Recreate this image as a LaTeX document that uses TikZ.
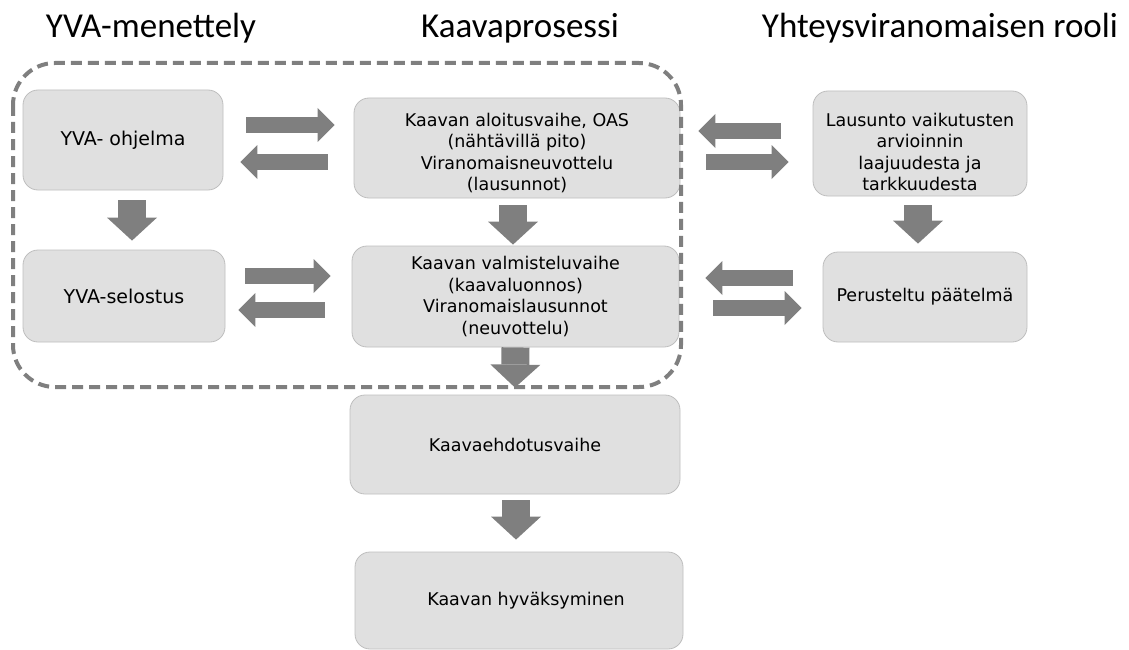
\documentclass[tikz,border=0pt]{standalone}
\usepackage{fontspec}
\setmainfont{DejaVu Sans}
\newfontfamily\headfont{Carlito}
\usetikzlibrary{arrows.meta}

\definecolor{boxgrey}{RGB}{224,224,224}
\definecolor{edgegrey}{RGB}{190,190,190}
\definecolor{arrowgrey}{RGB}{127,127,127}

\tikzset{
  stage/.style={draw=edgegrey, fill=boxgrey, line width=0.8pt, rounded corners=15pt,
    align=center, inner sep=0pt, font=\fontsize{17.5}{21.5}\selectfont},
  bigstage/.style={stage, font=\fontsize{19}{23}\selectfont},
  heading/.style={anchor=base, inner sep=0pt, font=\headfont\fontsize{35}{40}\selectfont},
  sidearrow/.style={arrowgrey, line width=16pt, -{Triangle[width=34pt,length=17pt,line width=0pt]}},
  downarrow/.style={arrowgrey, line width=28pt, -{Triangle[width=50pt,length=23pt,line width=0pt]}},
  groupline/.style={arrowgrey, line width=4pt, dash pattern=on 11pt off 6pt, rounded corners=42pt}
}

\begin{document}
\begin{tikzpicture}[x=1pt,y=-1pt]
\useasboundingbox (0,0) rectangle (1129,650);

% column titles
\node[heading] (yvatitle) at (151,38) {YVA-menettely};
\node[heading] (kaavatitle) at (520,38) {Kaavaprosessi};
\node[heading] (roletitle) at (940,38) {Yhteysviranomaisen rooli};

% YVA column
\node[bigstage, minimum width=200pt, minimum height=100pt] (ohjelma) at (123,140) {YVA- ohjelma};
\node[bigstage, minimum width=202pt, minimum height=92pt] (selostus) at (124,296) {YVA-selostus};

% kaava column
\node[stage, minimum width=326pt, minimum height=100pt] (aloitus) at (517,148)
  {\rule{0pt}{23pt}Kaavan aloitusvaihe, OAS\\(nähtävillä pito)\\Viranomaisneuvottelu\\(lausunnot)};
\node[stage, minimum width=327pt, minimum height=101pt] (valmistelu) at (515.5,296.5)
  {Kaavan valmisteluvaihe\\(kaavaluonnos)\\Viranomaislausunnot\\(neuvottelu)};
\node[stage, minimum width=330pt, minimum height=99pt] (ehdotus) at (515,444.5) {Kaavaehdotusvaihe};
\node[stage, minimum width=328pt, minimum height=97pt] (hyvaksyminen) at (519,600.5) {\hspace{14pt}Kaavan hyväksyminen};

% authority column
\node[stage, minimum width=214pt, minimum height=105pt] (lausunto) at (920,143.5)
  {\rule{0pt}{30pt}Lausunto vaikutusten\\arvioinnin\\laajuudesta ja\\tarkkuudesta};
\node[stage, minimum width=204pt, minimum height=90pt] (paatelma) at (925,297) {Perusteltu päätelmä};

% dashed frame round YVA and early kaava stages
\draw[groupline] (13,63) rectangle (681,387);

% arrows between columns
\draw[sidearrow] ([xshift=23pt,yshift=15pt]ohjelma.east) -- ([xshift=-19pt,yshift=23pt]aloitus.west);
\draw[sidearrow] ([xshift=-26pt,yshift=-14pt]aloitus.west) -- ([xshift=17pt,yshift=-22pt]ohjelma.east);
\draw[sidearrow] ([xshift=20pt,yshift=20pt]selostus.east) -- ([xshift=-21pt,yshift=20.5pt]valmistelu.west);
\draw[sidearrow] ([xshift=-27pt,yshift=-13.5pt]valmistelu.west) -- ([xshift=13pt,yshift=-14pt]selostus.east);
\draw[sidearrow] ([xshift=-32pt,yshift=12.5pt]lausunto.west) -- ([xshift=18pt,yshift=17pt]aloitus.east);
\draw[sidearrow] ([xshift=26pt,yshift=-14pt]aloitus.east) -- ([xshift=-24pt,yshift=-18.5pt]lausunto.west);
\draw[sidearrow] ([xshift=-30pt,yshift=19pt]paatelma.west) -- ([xshift=26pt,yshift=18.5pt]valmistelu.east);
\draw[sidearrow] ([xshift=34pt,yshift=-11.5pt]valmistelu.east) -- ([xshift=-21pt,yshift=-11pt]paatelma.west);

% arrows down each column
\draw[downarrow] ([xshift=9pt,yshift=-10pt]ohjelma.south) -- ([xshift=8pt,yshift=9pt]selostus.north);
\draw[downarrow] ([xshift=-4pt,yshift=-7pt]aloitus.south) -- ([xshift=-2.5pt,yshift=1pt]valmistelu.north);
\draw[downarrow] (valmistelu.south) -- ([yshift=7pt]ehdotus.north);
\draw[downarrow] ([xshift=1pt,yshift=-6pt]ehdotus.south) -- ([xshift=-3pt,yshift=12pt]hyvaksyminen.north);
\draw[downarrow] ([xshift=-2pt,yshift=-9pt]lausunto.south) -- ([xshift=-7pt,yshift=8pt]paatelma.north);
\end{tikzpicture}
\end{document}
